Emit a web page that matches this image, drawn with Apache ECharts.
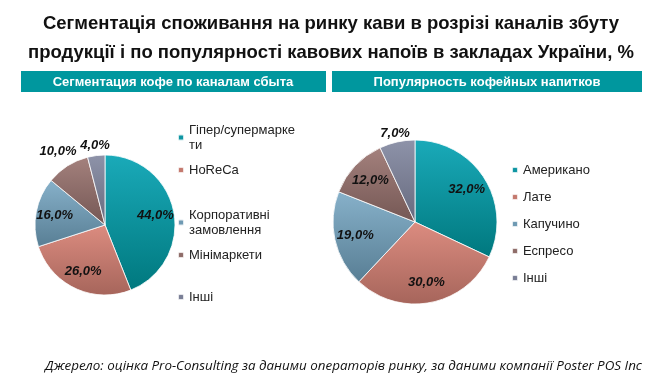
<!DOCTYPE html>
<html><head><meta charset="utf-8">
<script src="https://cdn.jsdelivr.net/npm/echarts@6/dist/echarts.min.js"></script>
<style>html,body{margin:0;padding:0;background:#fff}#c{width:655px;height:387px}</style>
</head><body><div id="c"></div>
<script>
const titleLines = ['Сегментація споживання на ринку кави в розрізі каналів збуту', 'продукції і по популярності кавових напоїв в закладах України, %'];
const leftHeader = 'Сегментация кофе по каналам сбыта';
const rightHeader = 'Популярность кофейных напитков';
const source = 'Джерело: оцінка Pro-Consulting за даними операторів ринку, за даними компанії Poster POS Inc';

const leftCats = ['Гіпер/супермаркети', 'HoReCa', 'Корпоративні замовлення', 'Мінімаркети', 'Інші'];
const leftLegendText = ['Гіпер/супермарке\nти', 'HoReCa', 'Корпоративні\nзамовлення', 'Мінімаркети', 'Інші'];
const leftVals = [44, 26, 16, 10, 4];
const rightCats = ['Американо', 'Лате', 'Капучино', 'Еспресо', 'Інші'];
const rightVals = [32, 30, 19, 12, 7];

const palette = [
  ['#1aaab9', '#00787e'],
  ['#dc8c80', '#a6655b'],
  ['#87b1ca', '#587e94'],
  ['#a4817d', '#745754'],
  ['#8e93a9', '#666a7e']
];
const solid = ['#0f96a3', '#c47a6f', '#6f9ab3', '#8f6d69', '#7a7f96'];
function grad(i){
  return new echarts.graphic.LinearGradient(0,0,0,1,[{offset:0,color:palette[i][0]},{offset:1,color:palette[i][1]}]);
}
const fmt = p => p.value.toFixed(1).replace('.', ',') + '%';
const labelStyle = {color:'#111', fontFamily:'Liberation Sans, Arial', fontSize:13, fontWeight:'bold', fontStyle:'italic'};

// outerK: per-slice label radius factor (null => inside label)
function pieSeries(cats, vals, center, r, innerK, outerK){
  const list = [{
    type:'pie', center, radius:[0, r], startAngle:90, clockwise:true, silent:true,
    label:{show:false}, labelLine:{show:false},
    itemStyle:{borderColor:'rgba(255,255,255,0.8)', borderWidth:1},
    data: cats.map((n,i)=>({name:n, value:vals[i], itemStyle:{color:grad(i)}}))
  }, {
    type:'pie', center, radius:[0, r*innerK], startAngle:90, clockwise:true, silent:true,
    itemStyle:{color:'transparent'}, labelLine:{show:false},
    label:Object.assign({show:true, position:'inside', formatter:fmt}, labelStyle),
    data: cats.map((n,i)=>({name:'in'+center[0]+'_'+i, value:vals[i], label:{show: outerK[i]==null}}))
  }];
  outerK.forEach((k, j)=>{
    if (k==null) return;
    list.push({
      type:'pie', center, radius:[0, r*k], startAngle:90, clockwise:true, silent:true,
      itemStyle:{color:'transparent'}, labelLine:{show:false},
      label:Object.assign({show:true, position:'inside', formatter:fmt}, labelStyle),
      data: cats.map((n,i)=>({name:'out'+center[0]+'_'+j+'_'+i, value:vals[i], label:{show: i===j}}))
    });
  });
  return list;
}

const legendFont = {color:'#222', fontFamily:'Liberation Sans, Arial', fontSize:13, lineHeight:15};
const leftTops = [130, 170, 215, 255, 297];
const legends = leftCats.map((n,i)=>{
  const two = leftLegendText[i].indexOf('\n')>=0;
  return {
    orient:'vertical', left:177, top: leftTops[i] - (two?15:7.5), padding:0,
    itemWidth:6, itemHeight:6, itemGap:0, selectedMode:false,
    data:[{name:n, itemStyle:{color:solid[i]}}],
    formatter: () => leftLegendText[i],
    textStyle: Object.assign({padding: two?[15,0,0,0]:0}, legendFont)
  };
});
legends.push({
  orient:'vertical', left:511, top:170-7.5, padding:0, itemWidth:6, itemHeight:6, itemGap:12, selectedMode:false,
  data: rightCats.map((n,i)=>({name:n, itemStyle:{color:solid[i]}})),
  textStyle: legendFont
});

const chart = echarts.init(document.getElementById('c'), null, {renderer:'canvas'});
chart.setOption({
  animation:false,
  title:[{
    text: titleLines.join('\n'), left:326, top:4, textAlign:'center',
    textStyle:{fontFamily:'Liberation Sans, Arial', fontWeight:'bold', fontSize:18.5, lineHeight:29, color:'#111'}
  },{
    text: source, left:40, top:355,
    textStyle:{fontFamily:'Open Sans, Liberation Sans', fontStyle:'italic', fontWeight:'normal', fontSize:13.4, color:'#111'}
  }],
  legend: legends,
  graphic:[
    {type:'rect', shape:{x:21, y:71, width:305, height:21}, style:{fill:'#00979e'}},
    {type:'rect', shape:{x:332, y:71, width:310, height:21}, style:{fill:'#00979e'}},
    {type:'text', x:173, y:82, style:{text:leftHeader, fill:'#fff', font:'bold 13px "Liberation Sans", Arial', textAlign:'center', textVerticalAlign:'middle'}},
    {type:'text', x:487, y:82, style:{text:rightHeader, fill:'#fff', font:'bold 13px "Liberation Sans", Arial', textAlign:'center', textVerticalAlign:'middle'}}
  ],
  series: [].concat(
    pieSeries(leftCats, leftVals, [105,225], 70, 1.38, [null,null,null,2.42,2.2]),
    pieSeries(rightCats, rightVals, [415,222], 82, 1.42, [null,null,null,null,2.15])
  )
});
</script></body></html>
